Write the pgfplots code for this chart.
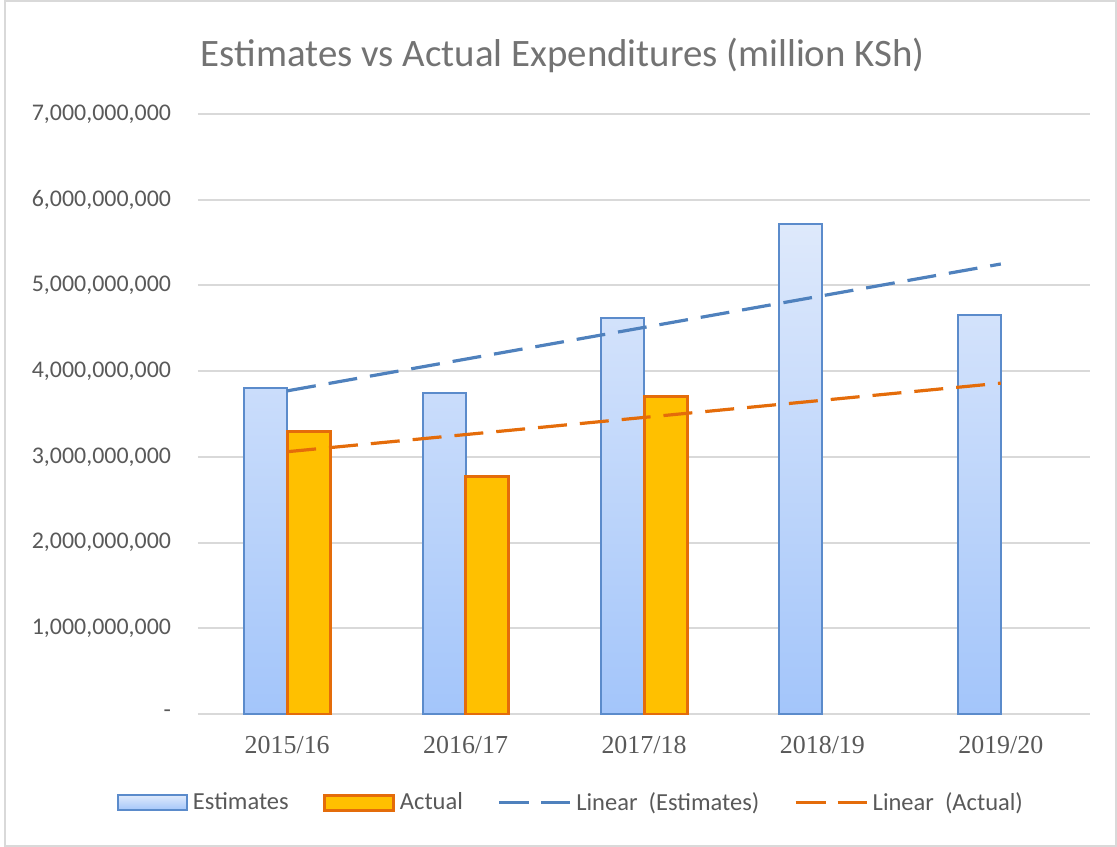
\documentclass[border=0pt]{standalone}
\usepackage{pgfplots}
\pgfplotsset{compat=1.18}
\usepackage{fontspec}
\setmainfont{Carlito}
\newfontfamily\timesfont{Liberation Serif}

\definecolor{estline}{HTML}{5B8BCB}
\definecolor{esttop}{HTML}{DEE9FB}
\definecolor{estbot}{HTML}{A3C5FA}
\definecolor{actfill}{HTML}{FFC000}
\definecolor{actline}{HTML}{E46C0A}
\definecolor{trendblue}{HTML}{4F81BD}
\definecolor{txt}{HTML}{595959}
\definecolor{titlec}{HTML}{737373}
\definecolor{gridc}{HTML}{D9D9D9}

\begin{document}
\begin{tikzpicture}
\begin{axis}[
  name=ax, scale only axis, width=446bp, height=300bp,
  xmin=-0.5, xmax=4.5, ymin=0, ymax=7e9,
  axis line style={draw=none}, major tick length=0pt,
  ymajorgrids, grid style={gridc, line width=1bp},
  xtick={0,1,2,3,4},
  xticklabels={2015/16,2016/17,2017/18,2018/19,2019/20},
  xticklabel style={font=\timesfont\fontsize{13}{15}\selectfont, text=txt, yshift=-7.5bp},
  ytick={0,1e9,2e9,3e9,4e9,5e9,6e9,7e9},
  yticklabels={{-},{1,000,000,000},{2,000,000,000},{3,000,000,000},{4,000,000,000},{5,000,000,000},{6,000,000,000},{7,000,000,000}},
  yticklabel style={font=\fontsize{12}{14}\selectfont, text=txt, xshift=-10bp},
  scaled y ticks=false,
  title={Estimates vs Actual Expenditures (million KSh)},
  title style={at={(0.409,1.078)}, anchor=center, font=\fontsize{19.5}{23}\selectfont, text=titlec},
  legend columns=4,
  legend style={at={(-0.0908,-0.148)}, anchor=west, draw=none, fill=none, inner sep=0pt,
    font=\fontsize{12.3}{14}\selectfont, text=txt, nodes={inner sep=2.3bp},
    /tikz/every even column/.append style={column sep=15bp}},
  legend cell align=left,
]
\addplot[ybar, bar width=21.5bp, bar shift=-10.75bp, draw=estline, line width=1bp,
  top color=esttop, bottom color=estbot,
  legend image code/.code={\draw[draw=estline, line width=1bp, top color=esttop, bottom color=estbot] (0bp,-3.75bp) rectangle (34.5bp,3.75bp);}]
  coordinates {(0,3.80e9) (1,3.75e9) (2,4.62e9) (3,5.72e9) (4,4.66e9)};
\addlegendentry{Estimates}
\addplot[ybar, bar width=21.5bp, bar shift=10.75bp, draw=actline, line width=1.5bp, fill=actfill,
  legend image code/.code={\draw[draw=actline, line width=1.5bp, fill=actfill] (0bp,-3.75bp) rectangle (34.5bp,3.75bp);}]
  coordinates {(0,3.30e9) (1,2.77e9) (2,3.70e9)};
\addlegendentry{Actual}
\addplot[sharp plot, no marks, trendblue, line width=1.6bp, dash pattern=on 14.5bp off 6.5bp,
  legend image code/.code={\draw[trendblue, line width=1.6bp, dash pattern=on 15bp off 6bp] (0bp,0bp) -- (35.5bp,0bp);}]
  coordinates {(0,3.77e9) (4,5.25e9)};
\addlegendentry{Linear\ \ (Estimates)}
\addplot[sharp plot, no marks, actline, line width=1.6bp, dash pattern=on 14.5bp off 6.5bp,
  legend image code/.code={\draw[actline, line width=1.6bp, dash pattern=on 15bp off 6bp] (0bp,0bp) -- (35.5bp,0bp);}]
  coordinates {(0,3.06e9) (4,3.86e9)};
\addlegendentry{Linear\ \ (Actual)}
\end{axis}
\pgfresetboundingbox
\useasboundingbox ([shift={(-99bp,-66.5bp)}]ax.south west) rectangle ([shift={(13.5bp,57bp)}]ax.north east);
\draw[gridc, line width=1bp] ([shift={(-96.5bp,-66bp)}]ax.south west) rectangle ([shift={(13bp,56.5bp)}]ax.north east);
\end{tikzpicture}
\end{document}
